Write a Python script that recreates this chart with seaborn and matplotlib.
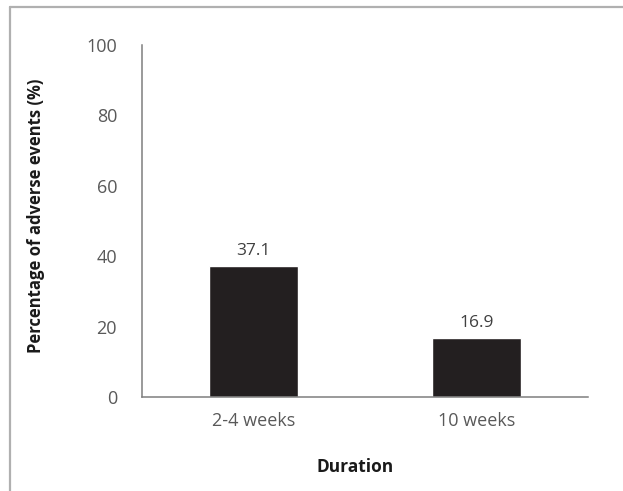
import matplotlib
matplotlib.use("Agg")
import matplotlib.pyplot as plt
from matplotlib.lines import Line2D
import seaborn as sns
import pandas as pd

durations = ["2-4 weeks", "10 weeks"]
adverse_pct = [37.1, 16.9]
y_ticks = [0, 20, 40, 60, 80, 100]

sns.set_theme(style="white")
plt.rcParams["font.family"] = ["Open Sans", "DejaVu Sans"]

df = pd.DataFrame({"Duration": durations, "Percentage": adverse_pct})

fig = plt.figure(figsize=(6.23, 4.91), dpi=100)
ax = fig.add_axes([0.228, 0.1914, 0.716, 0.717])

sns.barplot(data=df, x="Duration", y="Percentage", color="#231f20",
            width=0.4, saturation=1, ax=ax)

for patch, val in zip(ax.patches, adverse_pct):
    ax.annotate(f"{val:.1f}", (patch.get_x() + patch.get_width() / 2, val),
                xytext=(0, 5), textcoords="offset points",
                ha="center", va="bottom", fontsize=12.5, color="#404040")

ax.set_xlim(-0.5, 1.5)
ax.set_ylim(0, 100)
ax.set_yticks(y_ticks)
ax.set_yticklabels([str(t) for t in y_ticks])

ax.tick_params(axis="y", length=0, pad=18, labelsize=13, labelcolor="#595959")
ax.tick_params(axis="x", length=0, pad=11, labelsize=13, labelcolor="#595959")

for side in ["top", "right"]:
    ax.spines[side].set_visible(False)
for side in ["left", "bottom"]:
    ax.spines[side].set_color("#7f7f7f")
    ax.spines[side].set_linewidth(1.1)

ax.set_xlabel("Duration", fontsize=12.5, fontweight="bold", color="#1a1a1a")
ax.xaxis.set_label_coords(0.478, -0.172)
ax.set_ylabel("Percentage of adverse events (%)", fontsize=12, fontweight="bold",
              color="#1a1a1a")
ax.yaxis.set_label_coords(-0.218, 0.514)

# light frame on the top and left edges of the figure
frame_kw = dict(color="#b0b0b0", linewidth=1.6, transform=fig.transFigure)
fig.add_artist(Line2D([9.5 / 623, 1.0], [1 - 7 / 491, 1 - 7 / 491], **frame_kw))
fig.add_artist(Line2D([10 / 623, 10 / 623], [0.0, 1 - 7 / 491], **frame_kw))

fig.savefig("out.png", dpi=100)
